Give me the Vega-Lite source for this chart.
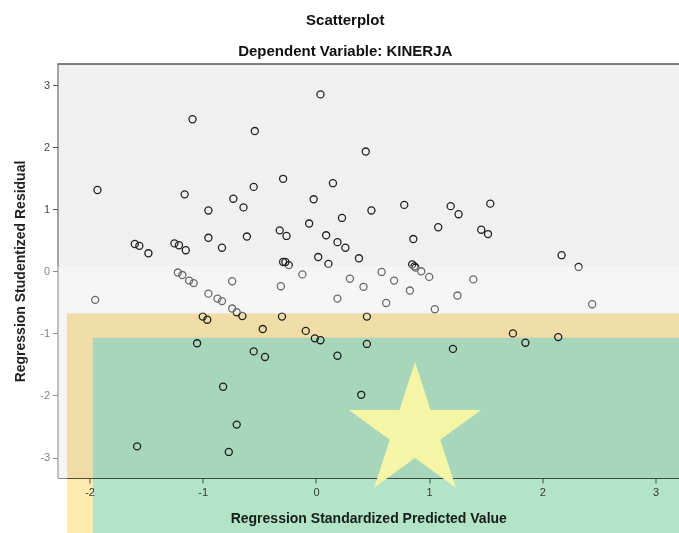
{
  "$schema": "https://vega.github.io/schema/vega-lite/v6.json",
  "autosize": {"type": "none"},
  "padding": {"left": 57.5, "top": 64, "right": 0, "bottom": 55},
  "width": 621.5,
  "height": 414,
  "background": "white",
  "config": {
    "font": "Liberation Sans",
    "view": {"fill": "#f0f0f0", "stroke": null},
    "axis": {
      "grid": false,
      "domainColor": "#555",
      "tickColor": "#555",
      "labelColor": "#444",
      "labelFontSize": 11,
      "labelFont": "Liberation Sans",
      "titleFont": "Liberation Sans",
      "titleFontSize": 14,
      "titleFontWeight": "bold",
      "titleColor": "#222",
      "tickSize": 5
    },
    "title": {
      "font": "Liberation Sans",
      "fontSize": 15,
      "fontWeight": "bold",
      "color": "#111",
      "subtitleFont": "Liberation Sans",
      "subtitleFontSize": 15,
      "subtitleFontWeight": "bold",
      "subtitleColor": "#111"
    }
  },
  "title": {
    "text": "Scatterplot",
    "subtitle": "Dependent Variable: KINERJA",
    "anchor": "middle",
    "dx": -23,
    "offset": 4,
    "subtitlePadding": 16
  },
  "datasets": {
    "residuals": [
      {"pred": 0.04, "resid": 2.85}, {"pred": -1.09, "resid": 2.45}, {"pred": -0.54, "resid": 2.26},
      {"pred": -1.93, "resid": 1.31}, {"pred": -1.16, "resid": 1.24}, {"pred": -0.95, "resid": 0.98},
      {"pred": -0.73, "resid": 1.17}, {"pred": -0.64, "resid": 1.03}, {"pred": -0.55, "resid": 1.36},
      {"pred": -0.29, "resid": 1.49}, {"pred": 0.15, "resid": 1.42}, {"pred": -0.02, "resid": 1.16},
      {"pred": -0.06, "resid": 0.77}, {"pred": -0.32, "resid": 0.66}, {"pred": -0.26, "resid": 0.57},
      {"pred": 0.09, "resid": 0.58}, {"pred": 0.19, "resid": 0.47}, {"pred": 0.26, "resid": 0.38},
      {"pred": -0.61, "resid": 0.56}, {"pred": -0.95, "resid": 0.54}, {"pred": -0.83, "resid": 0.38},
      {"pred": -1.6, "resid": 0.44}, {"pred": -1.56, "resid": 0.41}, {"pred": -1.48, "resid": 0.29},
      {"pred": -1.25, "resid": 0.45}, {"pred": -1.21, "resid": 0.42}, {"pred": -1.15, "resid": 0.34},
      {"pred": 0.02, "resid": 0.23}, {"pred": 0.11, "resid": 0.12}, {"pred": -0.29, "resid": 0.15},
      {"pred": -0.27, "resid": 0.15}, {"pred": -0.24, "resid": 0.1}, {"pred": -0.12, "resid": -0.05},
      {"pred": -0.31, "resid": -0.24}, {"pred": -0.74, "resid": -0.16}, {"pred": -1.22, "resid": -0.02},
      {"pred": -1.18, "resid": -0.06}, {"pred": -1.12, "resid": -0.15}, {"pred": -1.08, "resid": -0.19},
      {"pred": -0.95, "resid": -0.36}, {"pred": -0.87, "resid": -0.44}, {"pred": -0.83, "resid": -0.48},
      {"pred": -1.95, "resid": -0.46}, {"pred": 0.19, "resid": -0.44}, {"pred": -0.74, "resid": -0.6},
      {"pred": -0.7, "resid": -0.66}, {"pred": -0.65, "resid": -0.72}, {"pred": 0.3, "resid": -0.12},
      {"pred": 0.38, "resid": 0.21}, {"pred": -1.0, "resid": -0.73}, {"pred": -0.96, "resid": -0.78},
      {"pred": -0.3, "resid": -0.73}, {"pred": -0.47, "resid": -0.93}, {"pred": -0.09, "resid": -0.96},
      {"pred": -0.01, "resid": -1.08}, {"pred": 0.04, "resid": -1.11}, {"pred": -1.05, "resid": -1.16},
      {"pred": -0.55, "resid": -1.29}, {"pred": -0.45, "resid": -1.38}, {"pred": 0.19, "resid": -1.36},
      {"pred": 0.23, "resid": 0.86}, {"pred": 0.49, "resid": 0.98}, {"pred": 0.78, "resid": 1.07},
      {"pred": 1.19, "resid": 1.05}, {"pred": 1.26, "resid": 0.92}, {"pred": 1.54, "resid": 1.09},
      {"pred": 1.08, "resid": 0.71}, {"pred": 1.46, "resid": 0.67}, {"pred": 1.52, "resid": 0.6},
      {"pred": 0.86, "resid": 0.52}, {"pred": 2.17, "resid": 0.26}, {"pred": 2.32, "resid": 0.07},
      {"pred": 0.58, "resid": -0.01}, {"pred": 0.69, "resid": -0.15}, {"pred": 0.42, "resid": -0.25},
      {"pred": 0.62, "resid": -0.51}, {"pred": 0.83, "resid": -0.31}, {"pred": 0.85, "resid": 0.11},
      {"pred": 0.87, "resid": 0.08}, {"pred": 0.88, "resid": 0.06}, {"pred": 0.93, "resid": 0.0},
      {"pred": 1.0, "resid": -0.09}, {"pred": 1.39, "resid": -0.13}, {"pred": 1.25, "resid": -0.39},
      {"pred": 1.05, "resid": -0.61}, {"pred": 2.44, "resid": -0.53}, {"pred": 0.45, "resid": -0.73},
      {"pred": 0.45, "resid": -1.17}, {"pred": 1.21, "resid": -1.25}, {"pred": 1.74, "resid": -1.0},
      {"pred": 1.85, "resid": -1.15}, {"pred": 2.14, "resid": -1.06}, {"pred": 0.44, "resid": 1.93},
      {"pred": -0.82, "resid": -1.86}, {"pred": -0.7, "resid": -2.47}, {"pred": -1.58, "resid": -2.82},
      {"pred": -0.77, "resid": -2.91}, {"pred": 0.4, "resid": -1.99}
    ]
  },
  "layer": [
    {
      "data": {"values": [{"top": 3.34}]},
      "mark": {"type": "rule", "color": "#555", "strokeWidth": 1.5},
      "encoding": {
        "y": {"field": "top", "type": "quantitative", "scale": {"domain": [-3.33, 3.34], "nice": false, "zero": false}}
      }
    },
    {
      "data": {"name": "residuals"},
      "mark": {"type": "point", "shape": "circle", "filled": false, "color": "#222", "size": 50, "strokeWidth": 1.3, "opacity": 1},
      "encoding": {
        "x": {
          "field": "pred", "type": "quantitative",
          "title": "Regression Standardized Predicted Value",
          "scale": {"domain": [-2.283, 3.207], "nice": false, "zero": false},
          "axis": {"values": [-2, -1, 0, 1, 2, 3], "labelExpr": "datum.value + ''", "labelPadding": 3, "titlePadding": 14}
        },
        "y": {
          "field": "resid", "type": "quantitative",
          "title": "Regression Studentized Residual",
          "scale": {"domain": [-3.33, 3.34], "nice": false, "zero": false},
          "axis": {"values": [-3, -2, -1, 0, 1, 2, 3], "labelExpr": "datum.value + ''", "labelPadding": 3, "titlePadding": 12}
        }
      }
    },
    {
      "data": {"values": [
        {"x1": -2.55, "x2": 3.5, "y1": 0.08, "y2": -0.68},
        {"x1": -2.55, "x2": -2.2, "y1": -0.68, "y2": -4.4}
      ]},
      "mark": {"type": "rect", "color": "white", "opacity": 0.33, "clip": false},
      "encoding": {
        "x": {"field": "x1", "type": "quantitative"},
        "x2": {"field": "x2"},
        "y": {"field": "y1", "type": "quantitative"},
        "y2": {"field": "y2"}
      }
    },
    {
      "data": {"values": [
        {"x1": -2.2, "x2": 3.5, "y1": -0.68, "y2": -1.07},
        {"x1": -2.2, "x2": -1.97, "y1": -1.07, "y2": -4.4}
      ]},
      "mark": {"type": "rect", "color": "#ffeab2", "opacity": 1, "blend": "multiply", "clip": false},
      "encoding": {
        "x": {"field": "x1", "type": "quantitative"},
        "x2": {"field": "x2"},
        "y": {"field": "y1", "type": "quantitative"},
        "y2": {"field": "y2"}
      }
    },
    {
      "data": {"values": [{"x1": -1.97, "x2": 3.5, "y1": -1.07, "y2": -4.4}]},
      "mark": {"type": "rect", "color": "#b3e4c7", "opacity": 1, "blend": "multiply", "clip": false},
      "encoding": {
        "x": {"field": "x1", "type": "quantitative"},
        "x2": {"field": "x2"},
        "y": {"field": "y1", "type": "quantitative"},
        "y2": {"field": "y2"}
      }
    },
    {
      "data": {"values": [{"sx": 0.875, "sy": -2.58}]},
      "mark": {
        "type": "point", "filled": true, "color": "#f5f5a6", "opacity": 1, "size": 19321, "strokeWidth": 0,
        "shape": "M0,-1L0.2245,-0.309L0.951,-0.309L0.3633,0.118L0.588,0.809L0,0.382L-0.588,0.809L-0.3633,0.118L-0.951,-0.309L-0.2245,-0.309Z"
      },
      "encoding": {
        "x": {"field": "sx", "type": "quantitative"},
        "y": {"field": "sy", "type": "quantitative"}
      }
    }
  ]
}
